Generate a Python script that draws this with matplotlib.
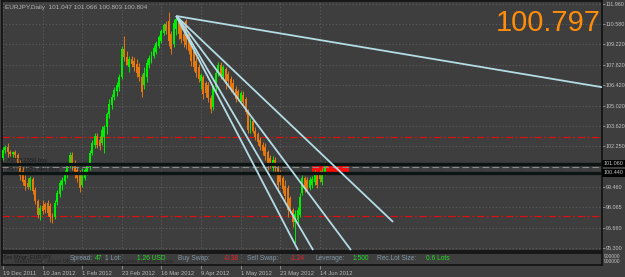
import numpy as np
import matplotlib.pyplot as plt
from matplotlib.patches import Rectangle

# EURJPY daily candles, 19 Dec 2011 .. 19 Jun 2012
opens = [101.47, 102.02, 102.23, 101.88, 101.75, 101.88, 101.68, 101.13, 100.65, 99.96,
         99.75, 99.48, 100.03, 99.28, 98.52, 97.56, 98.18, 98.32, 98.39, 98.18,
         97.56, 97.43, 98.45, 99.00, 99.62, 99.89, 100.37, 100.99, 101.68, 101.13,
         100.65, 100.30, 99.62, 100.10, 100.51, 100.85, 101.81, 102.36, 102.98, 102.70,
         102.50, 102.91, 103.53, 104.42, 105.04, 105.58, 105.99, 106.27, 106.96, 108.88,
         108.33, 107.64, 108.19, 108.05, 107.85, 107.64, 106.96, 106.41, 106.96, 107.78,
         108.05, 108.40, 108.67, 109.08, 109.42, 109.97, 110.59, 110.79, 109.90, 109.22,
         110.25, 110.79, 110.45, 109.90, 110.79, 109.90, 109.22, 108.74, 108.05, 107.64,
         106.68, 106.96, 106.54, 106.41, 105.52, 104.90, 106.27, 107.23, 107.78, 107.02,
         107.50, 107.16, 106.82, 106.54, 106.13, 105.99, 105.38, 105.72, 105.45, 104.62,
         103.39, 103.94, 103.32, 103.05, 102.70, 102.36, 102.23, 101.88, 101.47, 100.79,
         101.33, 100.79, 100.37, 100.10, 99.55, 99.41, 98.73, 97.91, 97.08, 97.22,
         97.56, 99.07, 100.10, 99.96, 99.41, 99.62, 99.82, 100.30, 100.37, 99.82,
         100.51, 101.047]
highs = [102.23, 102.36, 102.50, 102.02, 101.95, 102.02, 101.81, 101.33, 100.85, 100.30,
         100.10, 100.24, 100.17, 99.48, 98.66, 98.25, 98.59, 98.45, 98.59, 98.39,
         97.70, 98.59, 99.28, 99.96, 100.17, 100.65, 101.13, 101.88, 101.88, 101.33,
         100.85, 100.65, 100.79, 100.79, 101.13, 102.02, 102.70, 103.18, 103.18, 102.98,
         103.60, 103.73, 104.62, 105.45, 105.79, 106.27, 106.61, 107.16, 109.08, 109.77,
         108.74, 108.40, 108.40, 108.33, 108.19, 107.91, 107.16, 107.64, 108.19, 108.46,
         108.74, 109.15, 109.42, 109.83, 110.25, 110.66, 110.79, 111.41, 110.11, 110.93,
         111.14, 111.00, 110.66, 110.25, 110.93, 110.04, 109.35, 108.88, 108.33, 107.85,
         107.23, 107.09, 106.68, 106.61, 105.72, 106.41, 107.50, 107.98, 107.98, 107.78,
         107.64, 107.37, 107.02, 106.82, 106.34, 106.13, 105.99, 105.99, 105.58, 104.76,
         104.21, 104.08, 103.53, 103.25, 102.91, 102.57, 102.50, 102.02, 101.68, 101.61,
         101.54, 100.99, 100.65, 100.24, 99.96, 99.62, 98.87, 98.04, 97.91, 98.11,
         99.07, 100.30, 100.24, 100.17, 100.17, 100.24, 100.65, 100.44, 100.65, 100.79,
         101.20, 101.066]
lows = [101.33, 101.81, 101.54, 101.61, 101.54, 101.47, 100.99, 99.96, 99.62, 99.28,
        99.35, 99.28, 99.00, 98.32, 97.36, 97.22, 97.63, 97.70, 97.49, 97.08,
        97.01, 97.29, 98.25, 98.80, 99.28, 99.69, 100.10, 100.79, 100.65, 100.10,
        99.82, 99.14, 99.48, 99.96, 100.30, 100.65, 101.68, 102.15, 102.15, 102.02,
        102.36, 101.81, 103.05, 104.21, 104.76, 105.38, 105.65, 105.99, 106.82, 108.05,
        107.78, 107.30, 107.64, 107.37, 106.96, 106.68, 105.58, 106.13, 106.61, 107.57,
        107.91, 108.26, 108.53, 108.94, 109.29, 109.83, 109.90, 109.08, 108.53, 109.01,
        109.83, 109.56, 109.29, 109.01, 108.88, 108.53, 107.71, 107.37, 106.96, 106.61,
        106.13, 105.45, 105.58, 105.24, 104.55, 104.69, 105.99, 107.02, 106.82, 106.89,
        106.13, 106.41, 105.93, 105.79, 105.24, 105.31, 105.24, 105.04, 104.42, 103.12,
        103.18, 103.12, 102.70, 102.36, 102.02, 101.68, 101.33, 100.65, 100.79, 100.58,
        100.51, 99.28, 99.62, 99.07, 98.59, 97.43, 97.70, 96.74, 95.64, 97.01,
        97.43, 98.93, 99.14, 99.07, 99.28, 99.41, 99.62, 99.41, 99.82, 99.62,
        100.30, 100.803]
closes = [102.02, 102.23, 101.88, 101.75, 101.88, 101.68, 101.13, 100.24, 99.82, 99.55,
          99.48, 100.10, 99.21, 98.52, 97.56, 98.04, 97.84, 97.91, 97.70, 97.43,
          97.22, 98.39, 99.07, 99.75, 99.96, 100.44, 100.92, 101.68, 100.92, 100.37,
          100.10, 99.41, 100.51, 100.65, 100.99, 101.81, 102.50, 102.98, 102.36, 102.29,
          103.39, 103.53, 104.42, 105.10, 105.58, 106.06, 106.41, 106.96, 108.88, 108.33,
          107.78, 108.19, 107.85, 107.64, 107.23, 106.96, 105.93, 107.23, 107.91, 108.26,
          108.53, 108.94, 109.29, 109.70, 110.11, 110.52, 110.11, 109.42, 108.88, 110.66,
          110.93, 109.90, 109.56, 109.42, 109.15, 108.74, 108.05, 107.64, 107.23, 106.82,
          107.09, 105.79, 105.86, 105.52, 104.76, 106.27, 107.23, 107.78, 107.09, 107.64,
          106.48, 106.68, 106.13, 105.99, 105.45, 105.52, 105.86, 105.24, 104.62, 103.39,
          104.01, 103.32, 102.91, 102.57, 102.23, 101.95, 101.61, 100.92, 101.06, 101.33,
          100.79, 99.62, 99.82, 99.35, 98.87, 97.91, 98.04, 97.08, 97.63, 97.91,
          98.80, 100.10, 99.41, 99.35, 99.96, 100.03, 100.37, 99.62, 100.03, 100.58,
          101.06, 100.804]

date_labels = ["19 Dec 2011", "10 Jan 2012", "1 Feb 2012", "23 Feb 2012", "16 Mar 2012",
               "9 Apr 2012", "1 May 2012", "23 May 2012", "14 Jun 2012"]
date_bars = [0, 16, 32, 48, 64, 80, 96, 112, 128]
price_ticks = [111.960, 110.580, 109.220, 107.820, 106.420, 105.020, 103.620, 102.250,
               99.460, 98.065, 96.660, 95.300]

# fan of trend lines from the March top
fan_apex = (70, 111.14)
fan_end_bars = [242.4, 157.6, 140.6, 125.3, 119.2]
fan_end_prices = [106.27, 97.08, 95.16, 95.16, 95.16]

red_levels = [102.91, 97.49]
order_levels = [101.06, 100.44]
order_names = ["#37712550 buy", "#37712825 sell stop"]
bid_price = 100.80
red_zone = (124.8, 139.8, 100.51, 101.13)
big_price = "100.797"
header = "EURJPY,Daily  101.047 101.066 100.803 100.804"

info = [("Spread:", "lab"), ("47", "g"), ("1 Lot:", "lab"), ("1.26 USD", "g"),
        ("Buy Swap:", "lab"), ("-0.38", "r"), ("Sell Swap:", "lab"), ("-1.24", "r"),
        ("Leverage:", "lab"), ("1:500", "g"), ("Rec.Lot Size:", "lab"), ("0.6 Lots", "g")]
info_x = [70, 95, 105, 137, 178, 224, 247, 290, 315, 353, 377, 426]

W, H = 625, 277
bg = '#3e3e3e'
plt.rcParams['font.family'] = ['Liberation Sans', 'DejaVu Sans']
fig = plt.figure(figsize=(W / 100, H / 100), dpi=100, facecolor=bg)

def fx(x): return x / W
def fy(y): return 1 - y / H

ax = fig.add_axes([fx(2), fy(251), fx(602) - fx(2), fy(1) - fy(251)], facecolor=bg)
sub = fig.add_axes([fx(2), fy(265), fx(602) - fx(2), fy(253) - fy(265)], facecolor=bg, sharex=ax)

px_per_bar = 2.475
xmin = -0.4
xmax = xmin + 600 / px_per_bar
ax.set_xlim(xmin, xmax)
ax.set_ylim(95.094, 112.166)
sub.set_ylim(0, 1)

for a in (ax, sub):
    for s in a.spines.values():
        s.set_color('#111111')
        s.set_linewidth(1.2)

# grid
for b in date_bars:
    ax.axvline(b, color='#606060', lw=0.6, ls=(0, (1.5, 2.5)), zorder=0)
    sub.axvline(b, color='#606060', lw=0.6, ls=(0, (1.5, 2.5)), zorder=0)
for p in price_ticks:
    ax.axhline(p, color='#606060', lw=0.6, ls=(0, (1.5, 2.5)), zorder=0)

# red levels
for p in red_levels:
    ax.axhline(p, color='#dd1010', lw=0.9, ls=(0, (6, 2, 1.5, 2)), zorder=1)

# red zone
x0, x1, y0, y1 = red_zone
ax.add_patch(Rectangle((x0, y0), x1 - x0, y1 - y0, color='#ff0a0a', lw=0, zorder=2))

# candles
idx = np.arange(len(closes))
o = np.array(opens)
c = np.array(closes)
up = c > o
cols = np.where(up, '#00ee00', '#e67810')
ax.vlines(idx, lows, highs, colors=cols, lw=0.7, zorder=3)
ax.bar(idx, np.maximum(np.abs(c - o), 0.04), bottom=np.minimum(o, c), width=0.78,
       color=cols, lw=0, zorder=3)

# order lines
for p in order_levels:
    ax.axhline(p, color='#0c1414', lw=2.4, zorder=4)
ax.axhline(bid_price, color='#8a8a8a', lw=0.8, ls=(0, (6, 3)), zorder=4)
for p, name in zip(order_levels, order_names):
    ax.text(xmin + 2, p + 0.05, name, fontsize=4.2, color='#1c1c1c', va='bottom', zorder=5)

# fan lines
for xb, yp in zip(fan_end_bars, fan_end_prices):
    ax.plot([fan_apex[0], xb], [fan_apex[1], yp], color='#b4dce6', lw=1.3,
            solid_capstyle='butt', zorder=6)

# right price axis
ax.yaxis.tick_right()
ax.set_yticks(price_ticks)
ax.set_yticklabels(["%.3f" % p for p in price_ticks])
ax.tick_params(axis='y', colors='#9a9a9a', labelcolor='#c4c4c4', labelsize=3.9,
               length=2, width=0.6, pad=0.8)
ax.tick_params(axis='x', bottom=False, labelbottom=False)

# order price boxes on axis
for p in order_levels:
    ax.text(1.003, p, "%.3f" % p, transform=ax.get_yaxis_transform(), fontsize=3.9,
            color='#c8c8c8', va='center', ha='left',
            bbox=dict(boxstyle='square,pad=0.25', fc='#000000', ec='none'))

# subwindow axis
sub.yaxis.tick_right()
sub.set_yticks([0.75, 0.3])
sub.set_yticklabels(["900000", "900000"])
sub.tick_params(axis='y', colors='#9a9a9a', labelcolor='#c4c4c4', labelsize=3.5,
                length=0, pad=1.2)
sub.set_xticks(date_bars)
sub.set_xticklabels(date_labels)
sub.tick_params(axis='x', colors='#9a9a9a', labelcolor='#b8b8b8', labelsize=4.2,
                length=3, width=0.6, pad=1, direction='out')
for lab in sub.get_xticklabels():
    lab.set_horizontalalignment('left')

# header and big price
fig.text(fx(5), fy(7), header, fontsize=4.6, color='#b4b4b4', va='center')
fig.text(fx(601), fy(23), big_price, fontsize=21, color='#ff8c0a', va='center', ha='right')

# info line
fig.text(fx(3), fy(257), "Sec Mngr: EURJPY", fontsize=4.0, color='#1e1e1e', va='center')
fig.text(fx(15), fy(261), "MetaTrader - Alpari UK, \u00a9 2001-2012, MetaQuotes Software Corp.",
         fontsize=3.9, color='#262626', va='center')
info_cols = {"lab": '#7f98a8', "g": '#22dd22', "r": '#ee2222'}
for (t, k), xp in zip(info, info_x):
    fig.text(fx(xp), fy(259), t, fontsize=4.8, color=info_cols[k], va='center')

fig.savefig('out.png', dpi=100, facecolor=bg)
